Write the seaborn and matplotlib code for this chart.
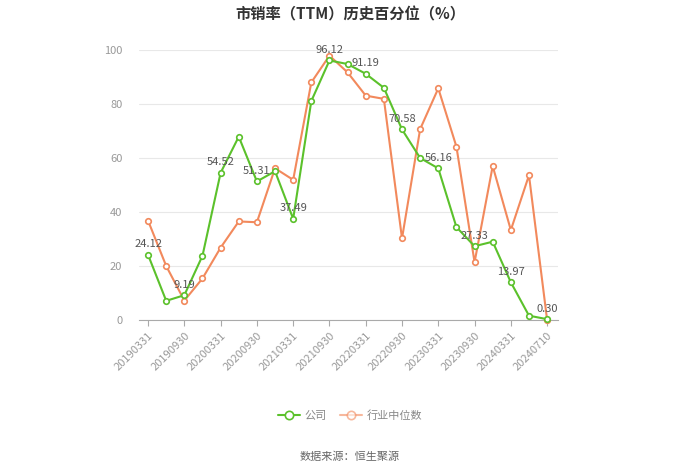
import numpy as np
import matplotlib
matplotlib.use("Agg")
import matplotlib.pyplot as plt
import seaborn as sns
from matplotlib.lines import Line2D

# ----------------- data -----------------
dates = ['20190331', '20190630', '20190930', '20191231', '20200331', '20200630',
         '20200930', '20201231', '20210331', '20210630', '20210930', '20211231',
         '20220331', '20220630', '20220930', '20221231', '20230331', '20230630',
         '20230930', '20231231', '20240331', '20240630', '20240710']
company = [24.12, 7.1, 9.19, 23.8, 54.52, 67.9, 51.31, 55.1, 37.49, 81.1, 96.12, 94.8,
           91.19, 86.0, 70.58, 60.0, 56.16, 34.4, 27.33, 29.0, 13.97, 1.6, 0.30]
industry = [36.8, 20.0, 7.2, 15.4, 26.8, 36.5, 36.2, 56.2, 51.9, 88.0, 97.9, 91.7,
            83.1, 81.9, 30.2, 70.7, 85.8, 64.2, 21.4, 57.0, 33.3, 53.6, 0.0]
series_names = ['公司', '行业中位数']
# ----------------------------------------

GREEN = '#5bc12b'
ORANGE = '#f2895c'

sns.set_style('white')
plt.rcParams['font.family'] = ['Noto Sans CJK SC', 'DejaVu Sans']

fig = plt.figure(figsize=(7, 4.74), dpi=100)
ax = fig.add_axes([139 / 700, 1 - 320 / 474, 419 / 700, 270 / 474])

idx = np.arange(len(dates))
mk = dict(marker='o', markersize=4, markerfacecolor='white', markeredgewidth=1.2)
sns.lineplot(x=idx, y=industry, ax=ax, color=ORANGE, linewidth=1.5,
             markeredgecolor=ORANGE, clip_on=False, zorder=3, **mk)
sns.lineplot(x=idx, y=company, ax=ax, color=GREEN, linewidth=1.5,
             markeredgecolor=GREEN, clip_on=False, zorder=4, **mk)

# value labels on every other company point
for i in range(0, len(dates), 2):
    ax.annotate(f'{company[i]:.2f}', (idx[i], company[i]), xytext=(0, 4),
                textcoords='offset points', ha='center', va='bottom',
                fontsize=8, color='#555555', zorder=5)

ax.set_xlim(-0.5, 22.6)
ax.set_ylim(0, 100)
ax.set_yticks([0, 20, 40, 60, 80, 100])
ax.set_xticks(idx[::2])
ax.set_xticklabels(dates[::2], rotation=45, ha='right', rotation_mode='anchor')
ax.tick_params(axis='y', colors='#999999', labelsize=8, length=0, pad=12)
ax.tick_params(axis='x', colors='#aaaaaa', labelcolor='#999999', labelsize=8,
               length=4, direction='out', bottom=True)
ax.grid(axis='y', color='#e8e8e8', linewidth=0.8)
for s in ['top', 'right', 'left']:
    ax.spines[s].set_visible(False)
ax.spines['bottom'].set_color('#aaaaaa')
ax.set_xlabel('')
ax.set_ylabel('')

handles = [
    Line2D([], [], color=GREEN, lw=1.5, marker='o', markersize=6,
           markerfacecolor='white', markeredgecolor=GREEN, markeredgewidth=1.2),
    Line2D([], [], color=ORANGE, lw=1.5, marker='o', markersize=6, alpha=0.6,
           markerfacecolor='white', markeredgecolor=ORANGE, markeredgewidth=1.2),
]
fig.legend(handles, series_names, loc='center', bbox_to_anchor=(0.5, 1 - 416 / 474),
           ncol=2, frameon=False, fontsize=8, labelcolor='#888888',
           handlelength=2, columnspacing=1.2, handletextpad=0.4)

fig.text(0.5, 1 - 14 / 474, '市销率（TTM）历史百分位（%）', ha='center', va='center',
         fontsize=11, fontweight='bold', color='#333333')
fig.text(0.5, 1 - 457 / 474, '数据来源：恒生聚源', ha='center', va='center',
         fontsize=8, color='#666666')

fig.savefig('out.png', dpi=100)
